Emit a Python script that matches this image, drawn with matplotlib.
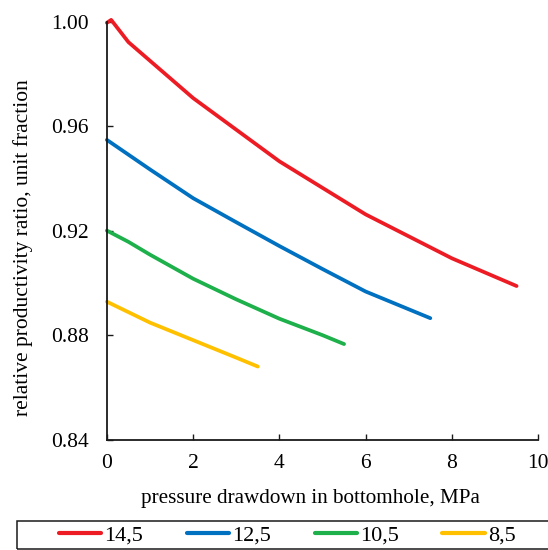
import matplotlib
matplotlib.use("Agg")
import matplotlib.pyplot as plt
from matplotlib.patches import Rectangle

plt.rcParams['font.family'] = ['Liberation Serif', 'DejaVu Serif']

# pressure drawdown, MPa  /  relative productivity ratio
x_145 = [0.0, 0.1, 0.5, 2.0, 4.0, 6.0, 8.0, 9.5]
y_145 = [0.9996, 1.0007, 0.9922, 0.9708, 0.9466, 0.9263, 0.9095, 0.8989]

x_125 = [0.0, 1.0, 2.0, 3.0, 4.0, 5.0, 6.0, 7.0, 7.5]
y_125 = [0.9548, 0.9435, 0.9325, 0.9233, 0.9142, 0.9054, 0.8968, 0.8900, 0.8866]

x_105 = [0.0, 0.5, 1.0, 2.0, 3.0, 4.0, 5.0, 5.5]
y_105 = [0.9201, 0.9158, 0.9109, 0.9017, 0.8938, 0.8864, 0.8801, 0.8767]

x_85 = [0.0, 0.5, 1.0, 2.0, 3.0, 3.5]
y_85 = [0.8929, 0.8889, 0.8849, 0.8782, 0.8715, 0.8681]

labels = ['14,5', '12,5', '10,5', '8,5']
colors = ['#ED1C24', '#0070C0', '#1DB04B', '#FFC000']
xticks = [0, 2, 4, 6, 8, 10]
yticks = [0.84, 0.88, 0.92, 0.96, 1.00]

fig = plt.figure(figsize=(5.48, 5.50), dpi=100)
ax = fig.add_axes([0.195, 0.2, 0.787, 0.7605])

series = [(x_145, y_145), (x_125, y_125), (x_105, y_105), (x_85, y_85)]
lines = []
for (xs, ys), lab, c in zip(series, labels, colors):
    l, = ax.plot(xs, ys, '-', color=c, linewidth=2.7, label=lab,
                 solid_capstyle='round', solid_joinstyle='round', clip_on=False)
    lines.append(l)

ax.set_xlim(0, 10)
ax.set_ylim(0.84, 1.00)
ax.set_xticks(xticks)
ax.set_yticks(yticks)
ax.set_xticklabels([str(t) for t in xticks])
ax.set_yticklabels(['%.2f' % t for t in yticks])
ax.spines['top'].set_visible(False)
ax.spines['right'].set_visible(False)
for s in ['left', 'bottom']:
    ax.spines[s].set_linewidth(1.3)
    ax.spines[s].set_color('#1a1a1a')
ax.tick_params(axis='both', direction='in', length=4, width=1.0,
               labelsize=15.5, color='#1a1a1a')
ax.tick_params(axis='x', pad=10)
ax.tick_params(axis='y', pad=13)

ax.set_xlabel('pressure drawdown in bottomhole, MPa', fontsize=15.2)
ax.xaxis.set_label_coords(0.473, -0.117)
ax.set_ylabel('relative productivity ratio, unit fraction', fontsize=15.5)
ax.yaxis.set_label_coords(-0.171, 0.459)

leg = fig.legend(handles=lines, labels=labels, ncol=4, loc='center left',
                 bbox_to_anchor=(0.1077, 0.027), frameon=False, fontsize=16,
                 borderpad=0, borderaxespad=0, handlelength=1.9,
                 handletextpad=0.15, columnspacing=1.95)
for h in leg.legend_handles:
    h.set_linewidth(3)

fig.patches.append(Rectangle((0.031, 0.0027), 1.0, 0.05, transform=fig.transFigure,
                             fill=False, edgecolor='#1a1a1a', linewidth=1.1))

plt.savefig('out.png', dpi=100)
